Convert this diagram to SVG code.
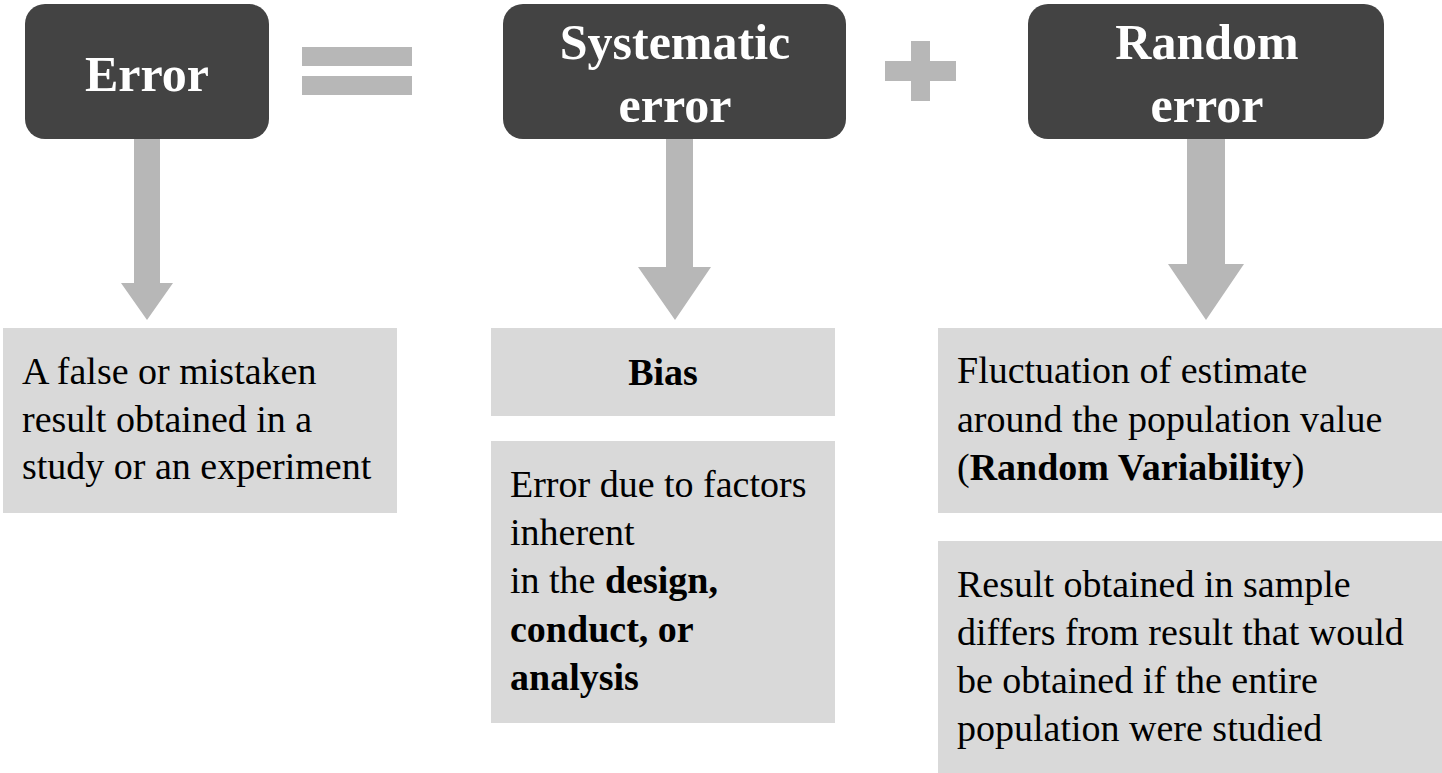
<svg xmlns="http://www.w3.org/2000/svg" width="1442" height="773" viewBox="0 0 1442 773">
<style>
.hdr{fill:#434343}
.hdrt{font-family:"Liberation Serif",serif;font-weight:bold;font-size:50px;fill:#ffffff;text-anchor:middle}
.box{fill:#d9d9d9}
.bt{font-family:"Liberation Serif",serif;font-size:38px;fill:#000000}
.b{font-weight:bold}
.op{fill:#b7b7b7}
.arr{fill:#b7b7b7}
</style>
<rect width="1442" height="773" fill="#ffffff"/>
<g id="connectors">
<polygon class="arr" points="134,139 160,139 160,283 173,283 147,320 121,283 134,283"/>
<polygon class="arr" points="666,139 693,139 693,267 711,267 675,320 638,267 666,267"/>
<polygon class="arr" points="1187,139 1225,139 1225,264 1244,264 1206,320 1168,264 1187,264"/>
</g>
<g id="equals">
<rect class="op" x="302" y="47" width="110" height="19"/>
<rect class="op" x="302" y="76" width="110" height="19"/>
</g>
<g id="plus">
<rect class="op" x="885" y="61" width="71" height="20"/>
<rect class="op" x="911" y="41" width="19" height="60"/>
</g>
<g id="error">
<rect class="hdr" x="25" y="4" width="244" height="135" rx="20"/>
<text class="hdrt" x="147" y="91">Error</text>
</g>
<g id="systematic">
<rect class="hdr" x="503" y="4" width="343" height="135" rx="20"/>
<text class="hdrt" x="675" y="59">Systematic</text>
<text class="hdrt" x="675" y="122">error</text>
</g>
<g id="random">
<rect class="hdr" x="1028" y="4" width="356" height="135" rx="20"/>
<text class="hdrt" x="1207" y="59">Random</text>
<text class="hdrt" x="1207" y="122">error</text>
</g>
<g id="error-def">
<rect class="box" x="3" y="328" width="394" height="185"/>
<text class="bt" x="22" y="384">A false or mistaken</text>
<text class="bt" x="22" y="432">result obtained in a</text>
<text class="bt" x="22" y="479">study or an experiment</text>
</g>
<g id="bias">
<rect class="box" x="491" y="328" width="344" height="88"/>
<text class="bt b" x="663" y="385" text-anchor="middle">Bias</text>
</g>
<g id="bias-def">
<rect class="box" x="491" y="441" width="344" height="282"/>
<text class="bt" x="510" y="497">Error due to factors</text>
<text class="bt" x="510" y="545">inherent</text>
<text class="bt" x="510" y="593">in the <tspan class="b">design,</tspan></text>
<text class="bt b" x="510" y="642">conduct, or</text>
<text class="bt b" x="510" y="690">analysis</text>
</g>
<g id="random-var">
<rect class="box" x="938" y="328" width="504" height="185"/>
<text class="bt" x="957" y="383">Fluctuation of estimate</text>
<text class="bt" x="957" y="432">around the population value</text>
<text class="bt" x="957" y="480">(<tspan class="b">Random Variability</tspan>)</text>
</g>
<g id="random-def">
<rect class="box" x="938" y="541" width="504" height="232"/>
<text class="bt" x="957" y="597">Result obtained in sample</text>
<text class="bt" x="957" y="645">differs from result that would</text>
<text class="bt" x="957" y="693">be obtained if the entire</text>
<text class="bt" x="957" y="741">population were studied</text>
</g>
</svg>
